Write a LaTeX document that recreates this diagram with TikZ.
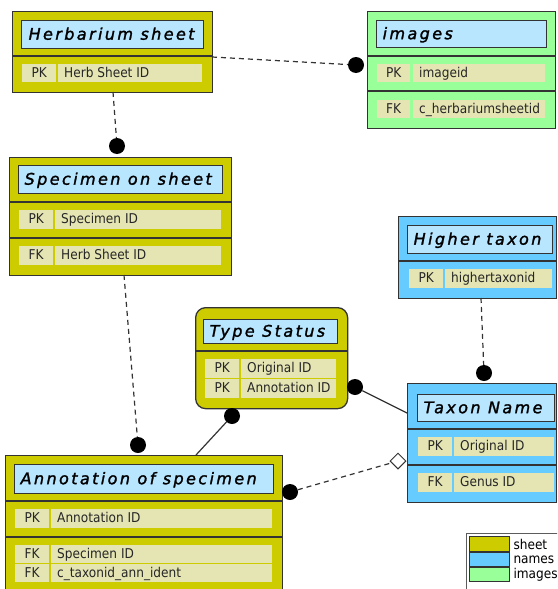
\documentclass[tikz,border=0pt]{standalone}
\usepackage{fontspec}
\usetikzlibrary{shapes.geometric}
\newfontfamily\ttlfont[LetterSpace=15,FakeBold=1.6]{DejaVu Sans}
\newfontfamily\fldfont{DejaVu Sans Condensed}
\definecolor{sheetc}{RGB}{204,204,0}
\definecolor{namesc}{RGB}{102,204,255}
\definecolor{imgc}{RGB}{153,255,153}
\definecolor{titlec}{RGB}{184,230,255}
\definecolor{fieldc}{RGB}{229,229,180}
\definecolor{linec}{RGB}{51,51,51}
% strut centred on the cap height, used with smashed text
\newcommand\capstrut{\rule[-0.1em]{0pt}{0.83em}}
% outer table box: name, x1, y1, x2, y2, style
\newcommand\tblbox[6]{%
  \pgfmathsetmacro\bw{#4-#2}\pgfmathsetmacro\bh{#5-#3}%
  \node[#6, minimum width=\bw pt, minimum height=\bh pt] (#1) at (#2,#3) {};}
% left aligned text cell: name, x1, y1, x2, y2, style, padding, text
\newcommand\txtcell[8]{%
  \pgfmathsetmacro\bw{#4-#2}\pgfmathsetmacro\bh{#5-#3}\pgfmathsetmacro\tw{#4-#2-2*#7}%
  \node[#6, minimum width=\bw pt, minimum height=\bh pt] (#1) at (#2,#3)
    {\makebox[\tw pt][l]{\smash{#8}\capstrut}};}
% centred key cell: name, x1, y1, x2, y2, text
\newcommand\keycell[6]{%
  \pgfmathsetmacro\bw{#4-#2}\pgfmathsetmacro\bh{#5-#3}%
  \node[keyc, minimum width=\bw pt, minimum height=\bh pt] (#1) at (#2,#3)
    {\smash{#6}\capstrut};}
\begin{document}
\begin{tikzpicture}[x=1pt,y=-1pt,
  tbl/.style={draw=linec, line width=1.3pt, anchor=north west, inner sep=0pt},
  sheetbox/.style={tbl, fill=sheetc},
  namesbox/.style={tbl, fill=namesc},
  imgbox/.style={tbl, fill=imgc},
  ttl/.style={draw=linec, line width=1.3pt, fill=titlec, anchor=north west, inner sep=0pt,
    font=\ttlfont\itshape\fontsize{16}{19}\selectfont},
  fld/.style={fill=fieldc, anchor=north west, inner sep=0pt,
    font=\fldfont\fontsize{13.5}{16}\selectfont, text=black!85},
  keyc/.style={fld},
  sep/.style={draw=linec, line width=1.3pt},
  legbox/.style={draw=linec!80, line width=0.8pt, fill=white, anchor=north west, inner sep=0pt},
  swatch/.style={draw=linec, line width=1.3pt, anchor=north west, inner sep=0pt},
  lgtxt/.style={anchor=west, inner sep=0pt, font=\fldfont\fontsize{13.5}{16}\selectfont},
  conn/.style={draw=linec, line width=1.2pt},
  fkline/.style={conn, dash pattern=on 5pt off 4pt},
  dot/.style={circle, fill=black, minimum size=16pt, inner sep=0pt},
  opendia/.style={diamond, draw=linec, line width=1pt, fill=white, minimum width=16pt,
    minimum height=16pt, inner sep=0pt}]
\useasboundingbox (0,0) rectangle (557,589);
\clip (0,0) rectangle (557,589);

% ---- Herbarium sheet ----
\tblbox{herb}{12}{11}{212}{92}{sheetbox}
\txtcell{herbT}{21}{20}{203}{48}{ttl}{7}{Herbarium sheet}
\draw[sep] (12,56) -- (212,56);
\keycell{herbK}{22}{64}{56}{82}{PK}
\txtcell{herbF}{58}{64}{202}{82}{fld}{6}{Herb Sheet ID}

% ---- images ----
\tblbox{img}{367}{11}{555}{128}{imgbox}
\txtcell{imgT}{376}{20}{546}{47}{ttl}{6}{images}
\draw[sep] (367,56) -- (555,56);
\keycell{imgK1}{377}{64}{410}{82}{PK}
\txtcell{imgF1}{413}{64}{545}{82}{fld}{6}{imageid}
\draw[sep] (367,91) -- (555,91);
\keycell{imgK2}{377}{100}{410}{118}{FK}
\txtcell{imgF2}{413}{100}{545}{118}{fld}{6}{c\_herbariumsheetid}

% ---- Specimen on sheet ----
\tblbox{spec}{9}{157}{231}{275}{sheetbox}
\txtcell{specT}{18}{165}{222}{193}{ttl}{6}{Specimen on sheet}
\draw[sep] (9,202) -- (231,202);
\keycell{specK1}{19}{210}{53}{229}{PK}
\txtcell{specF1}{55}{210}{221}{229}{fld}{6}{Specimen ID}
\draw[sep] (9,238) -- (231,238);
\keycell{specK2}{19}{246}{53}{265}{FK}
\txtcell{specF2}{55}{246}{221}{265}{fld}{6}{Herb Sheet ID}

% ---- Type Status ----
\tblbox{ts}{195}{307}{347}{408}{sheetbox, rounded corners=10pt}
\txtcell{tsT}{203}{319}{337}{343}{ttl}{6}{Type Status}
\draw[sep] (195,351) -- (347,351);
\keycell{tsK1}{205}{359}{239}{378}{PK}
\txtcell{tsF1}{241}{359}{336}{378}{fld}{6}{Original ID}
\keycell{tsK2}{205}{379}{239}{398}{PK}
\txtcell{tsF2}{241}{379}{336}{398}{fld}{6}{Annotation ID}

% ---- Higher taxon ----
\tblbox{ht}{398}{216}{556}{298}{namesbox}
\txtcell{htT}{407}{225}{552}{253}{ttl}{6}{Higher taxon}
\draw[sep] (398,261) -- (556,261);
\keycell{htK}{409}{269}{443}{288}{PK}
\txtcell{htF}{445}{269}{552}{288}{fld}{6}{highertaxonid}

% ---- Taxon Name ----
\tblbox{tn}{407}{383}{556}{502}{namesbox}
\txtcell{tnT}{417}{394}{554}{421}{ttl}{6}{Taxon Name}
\draw[sep] (407,429) -- (556,429);
\keycell{tnK1}{418}{437}{452}{456}{PK}
\txtcell{tnF1}{454}{437}{554}{456}{fld}{6}{Original ID}
\draw[sep] (407,465) -- (556,465);
\keycell{tnK2}{418}{473}{452}{492}{FK}
\txtcell{tnF2}{454}{473}{554}{492}{fld}{6}{Genus ID}

% ---- Annotation of specimen ----
\tblbox{ann}{5}{455}{282}{600}{sheetbox}
\txtcell{annT}{14}{464}{273}{493}{ttl}{6}{Annotation of specimen}
\draw[sep] (5,501) -- (282,501);
\keycell{annK1}{15}{509}{49}{528}{PK}
\txtcell{annF1}{51}{509}{272}{528}{fld}{6}{Annotation ID}
\draw[sep] (5,537) -- (282,537);
\keycell{annK2}{15}{545}{49}{563}{FK}
\txtcell{annF2}{51}{545}{272}{563}{fld}{6}{Specimen ID}
\keycell{annK3}{15}{564}{49}{582}{FK}
\txtcell{annF3}{51}{564}{272}{582}{fld}{6}{c\_taxonid\_ann\_ident}

% ---- legend ----
\tblbox{leg}{466}{533}{560}{592}{legbox}
\tblbox{lgS}{469}{536}{509}{551}{swatch, fill=sheetc}
\tblbox{lgN}{469}{552}{509}{566}{swatch, fill=namesc}
\tblbox{lgI}{469}{567}{509}{581}{swatch, fill=imgc}
\node[lgtxt] (lgSt) at ([xshift=3pt]lgS.east) {sheet};
\node[lgtxt] (lgNt) at ([xshift=3pt]lgN.east) {names};
\node[lgtxt] (lgIt) at ([xshift=3pt]lgI.east) {images};

% ---- relationships ----
\coordinate (c1) at (212,57);
\coordinate (c2) at (113,92);
\coordinate (c3) at (124,275);
\coordinate (c4) at (196,455);
\coordinate (c5) at (407,413);
\coordinate (c6) at (481,298);
\node[dot] (d1) at (356,65) {};
\node[dot] (d2) at (117,146) {};
\node[dot] (d3) at (138,445) {};
\node[dot] (d4) at (232,416) {};
\node[dot] (d5) at (355,387) {};
\node[dot] (d6) at (484,373) {};
\node[dot] (d7) at (290,492) {};
\node[opendia] (dm) at (398,461) {};
\draw[fkline] (c1) -- (d1);
\draw[fkline] (c2) -- (d2);
\draw[fkline] (c3) -- (d3);
\draw[conn] (d4) -- (c4);
\draw[conn] (d5) -- (c5);
\draw[fkline] (c6) -- (d6);
\draw[fkline] (d7) -- (dm);
\end{tikzpicture}
\end{document}
